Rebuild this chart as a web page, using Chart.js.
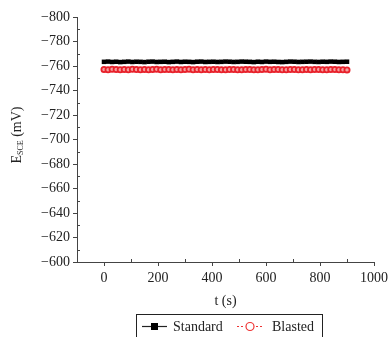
<!DOCTYPE html>
<html>
<head>
<meta charset="utf-8">
<script src="https://cdn.jsdelivr.net/npm/chart.js@4.4.1/dist/chart.umd.min.js"></script>
<style>
  html, body { margin: 0; padding: 0; background: #fff; }
  #wrap { width: 392px; height: 337px; position: relative; }
</style>
</head>
<body>
<div id="wrap"><canvas id="chart" width="392" height="337"></canvas></div>
<script>
// time stamps (s), one reading every 15 s
const times = [0, 15, 30, 45, 60, 75, 90, 105, 120, 135, 150, 165, 180, 195, 210, 225, 240, 255, 270, 285,
               300, 315, 330, 345, 360, 375, 390, 405, 420, 435, 450, 465, 480, 495, 510, 525, 540, 555,
               570, 585, 600, 615, 630, 645, 660, 675, 690, 705, 720, 735, 750, 765, 780, 795, 810, 825,
               840, 855, 870, 885, 900];
// potential readings (mV vs SCE)
const standard = [-763.4, -763.6, -763.3, -763.5, -763.2, -763.4, -763.6, -763.3, -763.5, -763.4,
                  -763.2, -763.5, -763.6, -763.3, -763.4, -763.5, -763.2, -763.4, -763.6, -763.3,
                  -763.5, -763.4, -763.2, -763.5, -763.6, -763.3, -763.4, -763.5, -763.3, -763.4,
                  -763.6, -763.5, -763.3, -763.4, -763.6, -763.5, -763.4, -763.2, -763.5, -763.3,
                  -763.6, -763.4, -763.5, -763.3, -763.2, -763.4, -763.6, -763.5, -763.3, -763.4,
                  -763.5, -763.6, -763.4, -763.3, -763.5, -763.4, -763.6, -763.5, -763.3, -763.4,
                  -763.5];
const blasted = [-757.2, -757.0, -757.3, -757.1, -756.9, -757.2, -757.0, -757.3, -757.1, -757.0,
                 -757.2, -756.9, -757.1, -757.3, -757.0, -757.2, -757.1, -756.9, -757.2, -757.0,
                 -757.1, -757.3, -757.0, -757.2, -756.9, -757.1, -757.0, -757.2, -757.1, -756.9,
                 -757.0, -757.2, -757.1, -756.9, -757.0, -757.1, -757.2, -757.0, -756.9, -757.1,
                 -757.3, -757.0, -757.1, -757.2, -756.9, -757.0, -757.1, -757.2, -757.0, -756.9,
                 -757.1, -757.0, -757.2, -757.1, -756.9, -757.0, -757.2, -757.1, -757.0, -756.9,
                 -756.8];
const yTicks = [-800, -780, -760, -740, -720, -700, -680, -660, -640, -620, -600];
const xTicks = [0, 200, 400, 600, 800, 1000];

const FONT = 'Liberation Serif';
const INK = '#222';

const toXY = (ys) => ys.map((v, i) => ({ x: times[i], y: v }));

// minor ticks, axis titles and the boxed legend
const decorations = {
    id: 'decorations',
    afterDraw(chart) {
        const ctx = chart.ctx;
        const xs = chart.scales.x, ys = chart.scales.y;
        const area = chart.chartArea;
        ctx.save();
        ctx.strokeStyle = '#444';
        ctx.lineWidth = 1;
        // minor ticks
        ctx.beginPath();
        for (let v = -790; v < -600; v += 20) {
            const py = Math.round(ys.getPixelForValue(v)) + 0.5;
            ctx.moveTo(area.left, py);
            ctx.lineTo(area.left + 3, py);
        }
        for (let v = -100; v <= 900; v += 200) {
            const px = Math.round(xs.getPixelForValue(v)) + 0.5;
            ctx.moveTo(px, area.bottom);
            ctx.lineTo(px, area.bottom - 3);
        }
        ctx.stroke();

        // y title: E_SCE (mV)
        ctx.fillStyle = INK;
        ctx.translate(17, 135);
        ctx.rotate(-Math.PI / 2);
        ctx.textBaseline = 'middle';
        ctx.font = '14px "' + FONT + '"';
        const e = 'E', unit = ' (mV)', sub = 'SCE';
        const wE = ctx.measureText(e).width;
        const wU = ctx.measureText(unit).width;
        ctx.font = '8px "' + FONT + '"';
        const wS = ctx.measureText(sub).width;
        let sx = -(wE + wS + wU) / 2;
        ctx.font = '14px "' + FONT + '"';
        ctx.textAlign = 'left';
        ctx.fillText(e, sx, 0);
        ctx.font = '8px "' + FONT + '"';
        ctx.fillText(sub, sx + wE, 4);
        ctx.font = '14px "' + FONT + '"';
        ctx.fillText(unit, sx + wE + wS, 0);
        ctx.setTransform(1, 0, 0, 1, 0, 0);

        // x title
        ctx.textAlign = 'center';
        ctx.fillText('t (s)', xs.getPixelForValue(450), 301);

        // legend box
        ctx.strokeStyle = '#222';
        ctx.strokeRect(136.5, 314.5, 186, 30);
        const ly = 326.5;
        // Standard sample
        ctx.beginPath();
        ctx.moveTo(142, ly); ctx.lineTo(167, ly);
        ctx.lineWidth = 1.2;
        ctx.stroke();
        ctx.fillStyle = '#000';
        ctx.fillRect(151, ly - 3.5, 7, 7);
        ctx.fillStyle = INK;
        ctx.textAlign = 'left';
        ctx.fillText('Standard', 173, ly + 1);
        // Blasted sample
        ctx.strokeStyle = '#e33';
        ctx.setLineDash([2, 2]);
        ctx.beginPath();
        ctx.moveTo(237, ly); ctx.lineTo(244, ly);
        ctx.moveTo(256, ly); ctx.lineTo(264, ly);
        ctx.stroke();
        ctx.setLineDash([]);
        ctx.beginPath();
        ctx.arc(250, ly, 4, 0, Math.PI * 2);
        ctx.fillStyle = '#fff';
        ctx.fill();
        ctx.stroke();
        ctx.fillStyle = INK;
        ctx.fillText('Blasted', 272, ly + 1);
        ctx.restore();
    }
};

new Chart(document.getElementById('chart'), {
    type: 'line',
    data: {
        datasets: [
            {
                label: 'Standard',
                data: toXY(standard),
                borderColor: '#000',
                backgroundColor: '#000',
                borderWidth: 2,
                pointStyle: 'rect',
                pointRadius: 3.2,
                pointBorderWidth: 0,
                tension: 0
            },
            {
                label: 'Blasted',
                data: toXY(blasted),
                borderColor: '#e8202a',
                backgroundColor: '#f4a0a0',
                borderWidth: 1.5,
                borderDash: [3, 2],
                pointStyle: 'circle',
                pointRadius: 2.6,
                pointBorderWidth: 1.8,
                tension: 0
            }
        ]
    },
    options: {
        responsive: false,
        animation: false,
        events: [],
        layout: { padding: { left: 0, right: 12, top: 17, bottom: 0 } },
        plugins: {
            legend: { display: false },
            tooltip: { enabled: false }
        },
        scales: {
            x: {
                type: 'linear',
                min: -100,
                max: 1000,
                afterBuildTicks: (scale) => { scale.ticks = xTicks.map(v => ({ value: v })); },
                afterFit: (scale) => { scale.height = 75; },
                border: { display: true, color: '#444', width: 1 },
                grid: { drawOnChartArea: false, drawTicks: true, tickLength: 4, color: '#444' },
                ticks: {
                    color: INK,
                    padding: 4,
                    maxRotation: 0,
                    font: { family: FONT, size: 14 },
                    callback: (v) => String(v)
                }
            },
            y: {
                type: 'linear',
                reverse: true,
                min: -800,
                max: -600,
                afterBuildTicks: (scale) => { scale.ticks = yTicks.map(v => ({ value: v })); },
                afterFit: (scale) => { scale.width = 77; },
                border: { display: true, color: '#444', width: 1 },
                grid: { drawOnChartArea: false, drawTicks: true, tickLength: 4, color: '#444' },
                ticks: {
                    color: INK,
                    padding: 3,
                    font: { family: FONT, size: 14 },
                    callback: (v) => String(v).replace('-', '\u2212')
                }
            }
        }
    },
    plugins: [decorations]
});
</script>
</body>
</html>
